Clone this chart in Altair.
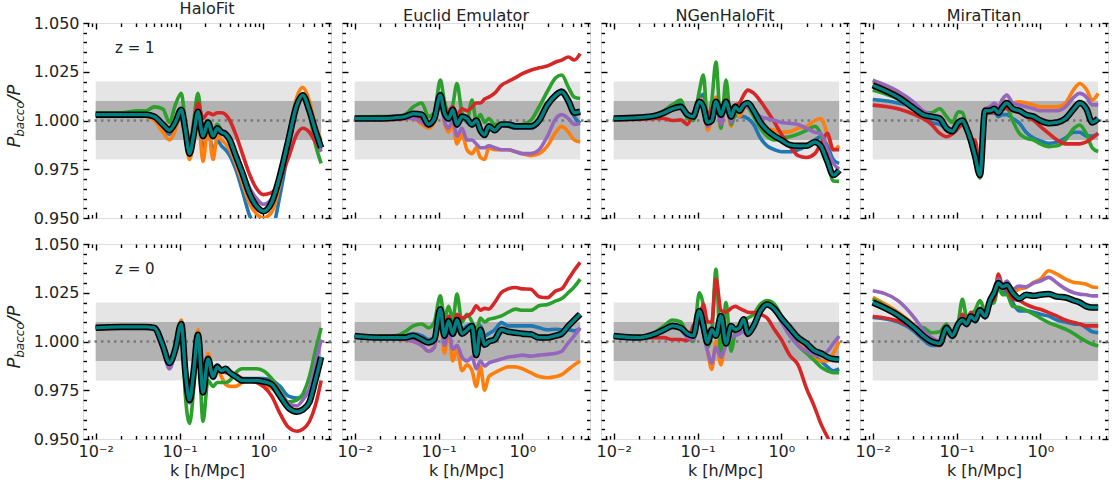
import altair as alt
import pandas as pd

# ---------------- data ----------------
K = [0.01, 0.02, 0.0316, 0.0398, 0.0501, 0.0631, 0.0759, 0.0891, 0.105, 0.1175,
     0.1318, 0.1479, 0.166, 0.1905, 0.2188, 0.2512, 0.2818, 0.3162, 0.3548, 0.398,
     0.4677, 0.5623, 0.676, 0.8318, 1.0, 1.259, 1.585, 1.995, 2.512, 2.951,
     3.548, 4.169, 4.898]

# HaloFit, z = 1
HF1_BLUE = [1.003, 1.003, 1.003, 1.003, 1.001, 0.996, 0.993, 0.997, 1.005, 0.993, 0.981, 0.991, 1.003, 0.984, 0.996, 0.984, 0.990, 0.987, 0.985, 0.982, 0.975, 0.964, 0.952, 0.945, 0.940, 0.943, 0.962, 0.985, 1.006, 1.012, 1.006, 0.995, 0.988]
HF1_ORANGE = [1.003, 1.003, 1.003, 1.002, 1.000, 0.994, 0.990, 0.995, 1.006, 0.992, 0.980, 0.991, 1.005, 0.979, 0.997, 0.980, 0.992, 0.990, 0.988, 0.985, 0.978, 0.968, 0.958, 0.952, 0.950, 0.953, 0.968, 0.991, 1.012, 1.017, 1.010, 0.997, 0.990]
HF1_GREEN = [1.004, 1.004, 1.005, 1.005, 1.007, 1.006, 0.999, 1.008, 1.014, 0.998, 0.986, 1.000, 1.014, 0.994, 1.000, 0.994, 0.998, 0.995, 0.993, 0.990, 0.983, 0.973, 0.963, 0.956, 0.953, 0.957, 0.971, 0.990, 1.007, 1.012, 1.003, 0.988, 0.978]
HF1_RED = [1.003, 1.003, 1.003, 1.003, 1.002, 0.998, 0.996, 1.000, 1.006, 0.996, 0.985, 0.998, 1.009, 1.001, 1.004, 1.003, 1.004, 1.004, 1.003, 1.000, 0.993, 0.983, 0.973, 0.965, 0.962, 0.963, 0.970, 0.981, 0.993, 0.996, 0.994, 0.989, 0.985]
HF1_PURPLE = [1.003, 1.003, 1.003, 1.003, 1.002, 0.997, 0.994, 0.998, 1.005, 0.995, 0.983, 0.993, 1.005, 0.991, 0.999, 0.991, 0.996, 0.995, 0.994, 0.991, 0.984, 0.975, 0.966, 0.960, 0.957, 0.960, 0.973, 0.991, 1.007, 1.012, 1.004, 0.992, 0.984]
HF1_MEAN = [1.003, 1.003, 1.003, 1.003, 1.002, 0.998, 0.995, 0.999, 1.0055, 0.995, 0.983, 0.993, 1.0045, 0.992, 0.999, 0.992, 0.996, 0.994, 0.993, 0.990, 0.982, 0.973, 0.963, 0.956, 0.9535, 0.958, 0.972, 0.990, 1.008, 1.013, 1.005, 0.995, 0.986]

# Euclid Emulator, z = 1
EE1_BLUE = [1.001, 1.001, 1.0015, 1.002, 1.004, 1.003, 0.997, 1.002, 1.014, 1.004, 1.000, 1.006, 0.997, 1.001, 0.999, 0.997, 0.999, 0.994, 0.992, 0.996, 0.995, 0.998, 0.997, 0.996, 0.996, 0.996, 0.999, 1.008, 1.014, 1.0156, 1.009, 1.002, 0.9986]
EE1_ORANGE = [1.001, 1.001, 1.001, 1.001, 1.001, 0.998, 0.996, 0.999, 1.011, 0.999, 0.994, 0.998, 0.988, 0.993, 0.985, 0.983, 0.986, 0.981, 0.980, 0.986, 0.985, 0.985, 0.985, 0.984, 0.983, 0.982, 0.983, 0.987, 0.994, 0.997, 0.994, 0.990, 0.989]
EE1_GREEN = [1.0015, 1.002, 1.002, 1.003, 1.007, 1.009, 1.002, 1.004, 1.0207, 1.010, 1.004, 1.008, 1.019, 1.004, 1.000, 1.0105, 1.000, 1.003, 0.999, 1.001, 0.998, 0.998, 0.997, 0.997, 0.998, 1.000, 1.007, 1.015, 1.022, 1.0233, 1.017, 1.012, 1.0113]
EE1_RED = [1.001, 1.0005, 1.0005, 1.001, 1.002, 1.001, 0.997, 1.000, 1.011, 1.003, 1.005, 1.007, 1.003, 1.006, 1.005, 1.007, 1.009, 1.009, 1.011, 1.012, 1.014, 1.018, 1.020, 1.022, 1.024, 1.0258, 1.027, 1.028, 1.030, 1.031, 1.0326, 1.031, 1.0343]
EE1_PURPLE = [1.001, 1.001, 1.001, 1.001, 1.001, 0.999, 0.997, 1.000, 1.012, 1.000, 0.996, 1.000, 0.992, 0.996, 0.990, 0.990, 0.988, 0.986, 0.986, 0.987, 0.986, 0.985, 0.985, 0.984, 0.983, 0.983, 0.985, 0.992, 1.001, 1.003, 1.001, 0.998, 0.9986]
EE1_MEAN = [1.001, 1.001, 1.0015, 1.002, 1.0035, 1.003, 0.998, 1.001, 1.013, 1.004, 1.001, 1.0055, 0.998, 1.002, 1.001, 0.998, 1.000, 0.995, 0.9926, 0.997, 0.995, 0.998, 0.998, 0.997, 0.997, 0.997, 1.000, 1.008, 1.013, 1.0147, 1.010, 1.004, 1.0045]

# NGenHaloFit, z = 1
NG1_BLUE = [1.001, 1.0015, 1.003, 1.005, 1.008, 1.009, 1.003, 1.002, 1.011, 1.0135, 1.000, 1.004, 1.011, 1.003, 1.010, 1.002, 1.003, 1.002, 1.002, 1.001, 0.998, 0.991, 0.987, 0.985, 0.984, 0.984, 0.985, 0.987, 0.990, 0.9917, 0.987, 0.980, 0.978]
NG1_ORANGE = [1.001, 1.0015, 1.0025, 1.004, 1.006, 1.007, 1.003, 1.002, 1.011, 1.009, 0.995, 1.001, 1.012, 0.996, 1.012, 0.997, 1.006, 1.002, 1.006, 1.007, 1.004, 0.999, 0.996, 0.995, 0.994, 0.9943, 0.996, 0.997, 1.000, 1.001, 0.993, 0.985, 0.987]
NG1_GREEN = [1.001, 1.0015, 1.003, 1.005, 1.008, 1.0105, 1.001, 1.000, 1.015, 1.0233, 1.000, 1.010, 1.030, 0.996, 1.0207, 0.998, 1.003, 1.006, 1.008, 1.007, 1.002, 0.996, 0.992, 0.990, 0.991, 0.9917, 0.993, 0.995, 0.997, 0.993, 0.980, 0.969, 0.9688]
NG1_RED = [1.0005, 1.0005, 1.001, 1.001, 1.000, 1.0003, 0.998, 1.004, 1.009, 1.008, 1.002, 1.006, 1.004, 1.005, 1.007, 1.006, 1.008, 1.009, 1.013, 1.0156, 1.014, 1.010, 1.005, 0.999, 0.993, 0.987, 0.982, 0.981, 0.983, 0.988, 0.9934, 0.985, 0.985]
NG1_PURPLE = [1.001, 1.0015, 1.0025, 1.004, 1.006, 1.007, 1.003, 1.002, 1.010, 1.008, 0.997, 1.001, 1.010, 0.998, 1.010, 0.999, 1.006, 1.004, 1.007, 1.007, 1.005, 1.002, 1.001, 1.000, 0.999, 0.9986, 0.998, 0.996, 0.994, 0.9934, 0.985, 0.978, 0.975]
NG1_MEAN = [1.001, 1.0015, 1.0025, 1.004, 1.006, 1.007, 1.003, 1.002, 1.0096, 1.007, 0.999, 1.000, 1.0096, 1.003, 1.0096, 1.002, 1.007, 1.005, 1.008, 1.009, 1.005, 0.999, 0.995, 0.992, 0.990, 0.9875, 0.987, 0.987, 0.989, 0.987, 0.979, 0.972, 0.9745]

# MiraTitan, z = 1
MT1_BLUE = [1.0108, 1.009, 1.006, 1.002, 0.999, 0.998, 0.996, 0.995, 0.999, 1.000, 0.996, 0.989, 0.982, 0.973, 1.004, 1.004, 1.004, 1.002, 1.003, 1.003, 1.001, 0.9986, 0.994, 0.991, 0.9895, 0.9883, 0.989, 0.991, 0.994, 0.994, 0.992, 0.992, 0.9934]
MT1_ORANGE = [1.0199, 1.014, 1.008, 1.004, 1.002, 1.001, 0.997, 0.995, 0.999, 1.000, 0.996, 0.990, 0.982, 0.972, 1.006, 1.007, 1.008, 1.006, 1.011, 1.009, 1.009, 1.0096, 1.009, 1.008, 1.007, 1.007, 1.007, 1.009, 1.016, 1.019, 1.016, 1.0105, 1.0139]
MT1_GREEN = [1.0156, 1.011, 1.006, 1.004, 1.004, 1.006, 1.002, 0.999, 1.0045, 1.004, 0.997, 0.988, 0.980, 0.9705, 1.003, 1.004, 1.006, 1.004, 1.008, 1.007, 1.000, 0.9934, 0.991, 0.990, 0.988, 0.9866, 0.987, 0.990, 0.996, 0.9977, 0.993, 0.986, 0.9841]
MT1_RED = [1.0079, 1.006, 1.003, 1.001, 0.998, 0.9934, 0.9917, 0.993, 0.996, 0.998, 0.996, 0.990, 0.990, 0.976, 1.003, 1.004, 1.004, 1.004, 1.006, 1.006, 1.005, 1.004, 1.002, 1.000, 0.997, 0.9934, 0.990, 0.988, 0.988, 0.988, 0.989, 0.991, 0.9934]
MT1_PURPLE = [1.0207, 1.015, 1.009, 1.005, 1.003, 1.002, 0.997, 0.995, 0.999, 1.000, 0.996, 0.990, 0.983, 0.972, 1.006, 1.007, 1.009, 1.007, 1.011, 1.013, 1.009, 1.008, 1.007, 1.006, 1.005, 1.005, 1.005, 1.007, 1.012, 1.0139, 1.012, 1.008, 1.008]
MT1_MEAN = [1.0181, 1.012, 1.006, 1.003, 1.002, 1.001, 0.996, 0.9945, 0.999, 1.000, 0.996, 0.990, 0.982, 0.972, 1.005, 1.005, 1.006, 1.004, 1.007, 1.009, 1.006, 1.005, 1.003, 1.002, 1.000, 0.9986, 0.999, 1.001, 1.006, 1.009, 1.006, 0.999, 1.001]

# HaloFit, z = 0
HF0_BLUE = [1.007, 1.0075, 1.0075, 1.0075, 1.007, 0.998, 0.989, 0.996, 1.009, 0.985, 0.971, 0.987, 1.005, 0.976, 0.993, 0.983, 0.988, 0.986, 0.986, 0.984, 0.982, 0.981, 0.981, 0.981, 0.981, 0.980, 0.977, 0.972, 0.971, 0.972, 0.975, 0.983, 0.990]
HF0_ORANGE = [1.007, 1.0075, 1.0075, 1.0075, 1.007, 0.997, 0.988, 0.997, 1.011, 0.986, 0.972, 0.989, 1.006, 0.977, 0.994, 0.984, 0.986, 0.982, 0.978, 0.977, 0.977, 0.979, 0.980, 0.979, 0.977, 0.976, 0.972, 0.966, 0.965, 0.966, 0.970, 0.980, 0.989]
HF0_GREEN = [1.0075, 1.008, 1.008, 1.008, 1.007, 0.998, 0.989, 0.995, 1.009, 0.972, 0.958, 0.976, 1.001, 0.959, 0.980, 0.977, 0.979, 0.979, 0.979, 0.980, 0.984, 0.986, 0.986, 0.986, 0.985, 0.981, 0.975, 0.969, 0.970, 0.973, 0.982, 0.995, 1.007]
HF0_RED = [1.007, 1.0075, 1.0075, 1.0075, 1.007, 0.998, 0.989, 0.996, 1.009, 0.985, 0.971, 0.986, 1.004, 0.976, 0.992, 0.983, 0.986, 0.985, 0.984, 0.984, 0.983, 0.981, 0.980, 0.979, 0.977, 0.972, 0.963, 0.956, 0.954, 0.955, 0.959, 0.967, 0.980]
HF0_PURPLE = [1.007, 1.007, 1.007, 1.007, 1.006, 0.996, 0.986, 0.995, 1.009, 0.983, 0.9685, 0.984, 1.003, 0.973, 0.990, 0.981, 0.986, 0.985, 0.985, 0.984, 0.982, 0.980, 0.980, 0.980, 0.980, 0.979, 0.974, 0.968, 0.967, 0.970, 0.976, 0.988, 1.001]
HF0_MEAN = [1.007, 1.0075, 1.0075, 1.0075, 1.007, 0.998, 0.989, 0.996, 1.009, 0.984, 0.970, 0.985, 1.0035, 0.974, 0.991, 0.982, 0.987, 0.985, 0.986, 0.984, 0.982, 0.980, 0.980, 0.980, 0.9795, 0.978, 0.972, 0.966, 0.964, 0.965, 0.969, 0.980, 0.992]

# Euclid Emulator, z = 0
EE0_BLUE = [1.0028, 1.002, 1.002, 1.003, 1.004, 1.003, 1.001, 1.002, 1.017, 1.004, 1.011, 1.005, 1.011, 1.006, 1.008, 1.009, 0.996, 1.008, 1.003, 1.004, 1.006, 1.0097, 1.008, 1.008, 1.008, 1.008, 1.007, 1.006, 1.0063, 1.006, 1.006, 1.0055, 1.0065]
EE0_ORANGE = [1.0028, 1.002, 1.002, 1.001, 1.000, 0.998, 0.995, 0.997, 1.0135, 0.994, 1.005, 0.990, 0.996, 0.985, 0.988, 0.985, 0.977, 0.987, 0.975, 0.982, 0.984, 0.9857, 0.987, 0.987, 0.986, 0.984, 0.982, 0.9814, 0.982, 0.983, 0.9857, 0.988, 0.990]
EE0_GREEN = [1.003, 1.0025, 1.003, 1.005, 1.008, 1.009, 1.007, 1.010, 1.0234, 1.012, 1.018, 1.011, 1.0243, 1.010, 1.014, 1.010, 1.005, 1.012, 1.010, 1.0114, 1.012, 1.0131, 1.015, 1.0166, 1.016, 1.016, 1.0183, 1.019, 1.0208, 1.022, 1.0251, 1.028, 1.032]
EE0_RED = [1.0028, 1.002, 1.0015, 1.001, 1.001, 1.000, 0.999, 1.001, 1.014, 1.006, 1.013, 1.008, 1.014, 1.012, 1.013, 1.0148, 1.0183, 1.016, 1.017, 1.0166, 1.020, 1.0251, 1.027, 1.0277, 1.027, 1.0268, 1.023, 1.0225, 1.026, 1.027, 1.032, 1.0365, 1.0406]
EE0_PURPLE = [1.0028, 1.002, 1.002, 1.001, 1.000, 0.998, 0.995, 0.997, 1.015, 0.998, 1.0055, 0.996, 0.998, 0.992, 0.990, 0.992, 0.986, 0.990, 0.9874, 0.989, 0.990, 0.991, 0.992, 0.9925, 0.993, 0.9925, 0.993, 0.9934, 0.994, 0.995, 0.9994, 1.003, 1.0071]
EE0_MEAN = [1.0028, 1.002, 1.002, 1.002, 1.003, 1.001, 0.9995, 1.001, 1.0166, 1.003, 1.0105, 1.004, 1.011, 1.004, 1.006, 1.008, 0.993, 1.006, 0.9983, 1.000, 1.001, 1.006, 1.005, 1.0045, 1.004, 1.0037, 1.002, 1.002, 1.003, 1.004, 1.008, 1.011, 1.014]

# NGenHaloFit, z = 0
NG0_BLUE = [1.003, 1.002, 1.004, 1.007, 1.009, 1.008, 1.004, 1.003, 1.016, 1.010, 1.000, 1.007, 1.005, 1.013, 1.000, 1.008, 1.006, 1.007, 1.011, 1.006, 1.009, 1.017, 1.020, 1.018, 1.013, 1.007, 1.001, 0.996, 0.992, 0.990, 0.987, 0.985, 0.986]
NG0_ORANGE = [1.0028, 1.002, 1.004, 1.006, 1.008, 1.007, 1.004, 1.003, 1.014, 1.006, 0.995, 0.9857, 1.000, 0.988, 1.003, 1.005, 1.006, 1.007, 1.010, 1.004, 1.008, 1.017, 1.020, 1.017, 1.012, 1.006, 1.000, 0.995, 0.991, 0.990, 0.990, 0.994, 1.000]
NG0_GREEN = [1.003, 1.002, 1.005, 1.008, 1.011, 1.010, 1.003, 1.000, 1.025, 1.018, 0.997, 1.005, 1.037, 0.992, 1.020, 0.995, 1.005, 1.009, 1.011, 1.012, 1.014, 1.0191, 1.021, 1.019, 1.013, 1.005, 0.998, 0.994, 0.990, 0.987, 0.985, 0.984, 0.984]
NG0_RED = [1.0028, 1.002, 1.002, 1.002, 1.001, 1.001, 1.0005, 1.008, 1.012, 1.0191, 1.010, 1.010, 1.032, 1.016, 1.015, 1.017, 1.018, 1.017, 1.016, 1.015, 1.0148, 1.014, 1.012, 1.006, 1.001, 0.993, 0.988, 0.976, 0.966, 0.958, 0.951, 0.945, 0.938]
NG0_PURPLE = [1.0028, 1.002, 1.004, 1.006, 1.008, 1.006, 1.002, 1.001, 1.012, 1.004, 0.995, 0.989, 0.997, 0.992, 0.998, 1.002, 1.003, 1.004, 1.005, 1.003, 1.007, 1.016, 1.019, 1.016, 1.010, 1.003, 0.998, 0.995, 0.993, 0.993, 0.995, 0.999, 1.0028]
NG0_MEAN = [1.0028, 1.002, 1.004, 1.006, 1.008, 1.007, 1.004, 1.003, 1.0157, 1.008, 0.9994, 1.006, 1.003, 1.0131, 0.999, 1.008, 1.006, 1.007, 1.0114, 1.004, 1.008, 1.0157, 1.019, 1.0166, 1.012, 1.007, 1.002, 0.999, 0.9951, 0.994, 0.992, 0.991, 0.9908]

# MiraTitan, z = 0
MT0_BLUE = [1.0123, 1.010, 1.005, 1.001, 0.998, 0.998, 1.005, 1.002, 1.008, 1.010, 1.008, 1.012, 1.010, 1.015, 1.012, 1.019, 1.023, 1.028, 1.025, 1.026, 1.020, 1.0157, 1.0157, 1.015, 1.014, 1.013, 1.011, 1.010, 1.009, 1.0088, 1.007, 1.005, 1.0045]
MT0_ORANGE = [1.0226, 1.015, 1.008, 1.003, 1.000, 0.999, 1.007, 1.003, 1.009, 1.011, 1.009, 1.013, 1.011, 1.016, 1.013, 1.020, 1.024, 1.030, 1.027, 1.029, 1.025, 1.027, 1.0277, 1.0303, 1.032, 1.0363, 1.0345, 1.032, 1.0303, 1.030, 1.0294, 1.028, 1.0277]
MT0_GREEN = [1.0217, 1.014, 1.0071, 1.0071, 1.0045, 1.005, 1.009, 1.004, 1.010, 1.0217, 1.013, 1.014, 1.016, 1.021, 1.016, 1.019, 1.020, 1.028, 1.024, 1.024, 1.018, 1.0174, 1.016, 1.014, 1.012, 1.0097, 1.008, 1.0063, 1.004, 1.002, 1.000, 0.9986, 0.9977]
MT0_RED = [1.0128, 1.0105, 1.006, 1.002, 0.999, 0.998, 1.007, 1.005, 1.008, 1.014, 1.010, 1.015, 1.012, 1.017, 1.014, 1.020, 1.022, 1.0346, 1.028, 1.027, 1.0217, 1.021, 1.019, 1.0174, 1.0165, 1.0148, 1.013, 1.011, 1.0097, 1.009, 1.008, 1.008, 1.008]
MT0_PURPLE = [1.026, 1.021, 1.012, 1.006, 1.002, 1.000, 1.008, 1.004, 1.010, 1.012, 1.010, 1.014, 1.012, 1.017, 1.014, 1.022, 1.026, 1.032, 1.029, 1.031, 1.027, 1.0285, 1.028, 1.030, 1.031, 1.0329, 1.030, 1.027, 1.025, 1.0243, 1.024, 1.0234, 1.0234]
MT0_MEAN = [1.020, 1.0135, 1.007, 1.003, 1.000, 0.999, 1.007, 1.003, 1.009, 1.011, 1.009, 1.013, 1.011, 1.016, 1.013, 1.021, 1.025, 1.030, 1.028, 1.029, 1.025, 1.022, 1.024, 1.0234, 1.024, 1.0243, 1.023, 1.0226, 1.021, 1.020, 1.018, 1.0174, 1.0174]

TITLES = ["HaloFit", "Euclid Emulator", "NGenHaloFit", "MiraTitan"]
ZLABELS = ["z = 1", "z = 0"]
PANELS = [
    [HF1_BLUE, HF1_ORANGE, HF1_GREEN, HF1_RED, HF1_PURPLE, HF1_MEAN],
    [EE1_BLUE, EE1_ORANGE, EE1_GREEN, EE1_RED, EE1_PURPLE, EE1_MEAN],
    [NG1_BLUE, NG1_ORANGE, NG1_GREEN, NG1_RED, NG1_PURPLE, NG1_MEAN],
    [MT1_BLUE, MT1_ORANGE, MT1_GREEN, MT1_RED, MT1_PURPLE, MT1_MEAN],
    [HF0_BLUE, HF0_ORANGE, HF0_GREEN, HF0_RED, HF0_PURPLE, HF0_MEAN],
    [EE0_BLUE, EE0_ORANGE, EE0_GREEN, EE0_RED, EE0_PURPLE, EE0_MEAN],
    [NG0_BLUE, NG0_ORANGE, NG0_GREEN, NG0_RED, NG0_PURPLE, NG0_MEAN],
    [MT0_BLUE, MT0_ORANGE, MT0_GREEN, MT0_RED, MT0_PURPLE, MT0_MEAN],
]

OUTER_BAND = [0.98, 1.02]
INNER_BAND = [0.99, 1.01]
X_MAJOR = [0.01, 0.1, 1.0]
X_MINOR = [0.008, 0.009, 0.02, 0.03, 0.04, 0.05, 0.06, 0.07, 0.08, 0.09,
           0.2, 0.3, 0.4, 0.5, 0.6, 0.7, 0.8, 0.9, 2.0, 3.0, 4.0, 5.0, 6.0]
Y_MAJOR = [0.95, 0.975, 1.0, 1.025, 1.05]
Y_MINOR = [0.955, 0.96, 0.965, 0.97, 0.98, 0.985, 0.99, 0.995, 1.005, 1.01,
           1.015, 1.02, 1.03, 1.035, 1.04, 1.045]

# ---------------- style ----------------
FONT = "DejaVu Sans"
TXT = "#222222"
COLORS = ["#1f77b4", "#ff7f0e", "#2ca02c", "#d62728", "#9467bd"]
MEAN_EDGE = "#000000"
MEAN_FACE = "#008080"
LIGHT = "#e5e5e5"
DARK = "#b2b2b2"
W, H = 248, 195
XMIN, XMAX = 0.00705, 6.42
MAJ, MIN = 6, 3.5

XS = alt.Scale(type="log", domain=[XMIN, XMAX], nice=False)
YS = alt.Scale(domain=[0.95, 1.05], nice=False, zero=False)

X_LABEL_EXPR = "['10\u207b\u00b2','10\u207b\u00b9','10\u2070'][round(log(datum.value)/LN10)+2]"


def axis(values, orient, size, labels=False, fmt=None, expr=None, title=None):
    kw = dict(values=values, orient=orient, tickSize=size, offset=-size,
              domain=False, grid=False, labels=labels, ticks=True,
              tickColor="black", tickWidth=1.4, title=title)
    if labels:
        kw.update(labelFont=FONT, labelFontSize=16, labelColor=TXT,
                  labelPadding=4, labelFlush=False)
        if fmt:
            kw["format"] = fmt
        if expr:
            kw["labelExpr"] = expr
    if title:
        kw.update(titleFont=FONT, titleFontSize=16, titleFontWeight="normal",
                  titleColor=TXT, titlePadding=3)
    return alt.Axis(**kw)


def panel(idx):
    row, col = divmod(idx, 4)
    blue, orange, green, red, purple, mean = PANELS[idx]
    df = pd.DataFrame({"k": K, "s0": blue, "s1": orange, "s2": green,
                       "s3": red, "s4": purple, "mean": mean})
    bottom = row == 1
    left = col == 0

    x_maj_b = axis(X_MAJOR, "bottom", MAJ, labels=bottom, expr=X_LABEL_EXPR,
                   title="k [h/Mpc]" if bottom else None)
    x_maj_t = axis(X_MAJOR, "top", MAJ)
    x_min_b = axis(X_MINOR, "bottom", MIN)
    x_min_t = axis(X_MINOR, "top", MIN)
    y_maj_l = axis(Y_MAJOR, "left", MAJ, labels=left, fmt=".3f")
    y_maj_r = axis(Y_MAJOR, "right", MAJ)
    y_min_l = axis(Y_MINOR, "left", MIN)
    y_min_r = axis(Y_MINOR, "right", MIN)

    layers = []
    band_o = pd.DataFrame({"x0": [K[0]], "x1": [K[-1]],
                           "y0": [OUTER_BAND[0]], "y1": [OUTER_BAND[1]]})
    band_i = pd.DataFrame({"x0": [K[0]], "x1": [K[-1]],
                           "y0": [INNER_BAND[0]], "y1": [INNER_BAND[1]]})
    layers.append(alt.Chart(band_o).mark_rect(color=LIGHT).encode(
        x=alt.X("x0:Q", scale=XS, axis=x_maj_b), x2="x1:Q",
        y=alt.Y("y0:Q", scale=YS, axis=y_maj_l), y2="y1:Q"))
    layers.append(alt.Chart(band_i).mark_rect(color=DARK).encode(
        x=alt.X("x0:Q", scale=XS, axis=x_maj_t), x2="x1:Q",
        y=alt.Y("y0:Q", scale=YS, axis=y_maj_r), y2="y1:Q"))
    layers.append(alt.Chart(pd.DataFrame({"y": [1.0]})).mark_rule(
        color="#7a7a7a", strokeDash=[2.5, 4], strokeWidth=2.5).encode(
        y=alt.Y("y:Q", scale=YS, axis=y_min_l)))

    for i, c in enumerate(COLORS):
        xa = x_min_b if i == 0 else (x_min_t if i == 1 else None)
        ya = y_min_r if i == 0 else None
        layers.append(alt.Chart(df).mark_line(
            color=c, strokeWidth=3.6, clip=True, interpolate="monotone").encode(
            x=alt.X("k:Q", scale=XS, axis=xa),
            y=alt.Y(f"s{i}:Q", scale=YS, axis=ya)))
    layers.append(alt.Chart(df).mark_line(
        color=MEAN_EDGE, strokeWidth=6.5, clip=True, interpolate="monotone").encode(
        x=alt.X("k:Q", scale=XS, axis=None), y=alt.Y("mean:Q", scale=YS, axis=None)))
    layers.append(alt.Chart(df).mark_line(
        color=MEAN_FACE, strokeWidth=3.4, clip=True, interpolate="monotone").encode(
        x=alt.X("k:Q", scale=XS, axis=None), y=alt.Y("mean:Q", scale=YS, axis=None)))

    if left:
        layers.append(alt.Chart(pd.DataFrame({"t": [ZLABELS[row]]})).mark_text(
            font=FONT, fontSize=15, color=TXT, align="left", baseline="middle").encode(
            text="t:N", x=alt.value(32), y=alt.value(25)))
        for txt, size, dx, yy in [("P", 18, -68, 119), ("bacco", 12, -63, 96), ("/P", 18, -68, 70)]:
            layers.append(alt.Chart(pd.DataFrame({"t": [txt]})).mark_text(
                font=FONT, fontSize=size, fontStyle="italic", color=TXT, angle=270,
                align="center", baseline="middle").encode(
                text="t:N", x=alt.value(dx), y=alt.value(yy)))

    ch = alt.layer(*layers).resolve_axis(x="independent", y="independent")
    props = dict(width=W, height=H)
    if row == 0:
        props["title"] = alt.TitleParams(text=TITLES[col], font=FONT, fontSize=16,
                                         fontWeight="normal", color=TXT, offset=-2,
                                         anchor="middle")
    return ch.properties(**props)


chart = alt.concat(*[panel(i) for i in range(8)], columns=4,
                   spacing={"row": 26, "column": 11}, bounds="flush").properties(
    padding={"left": 5, "top": 0, "right": 2, "bottom": 2}
).configure_view(stroke="black", strokeWidth=1.5).configure(font=FONT)

chart.save("out.html", embed_options={"renderer": "svg", "actions": False})
